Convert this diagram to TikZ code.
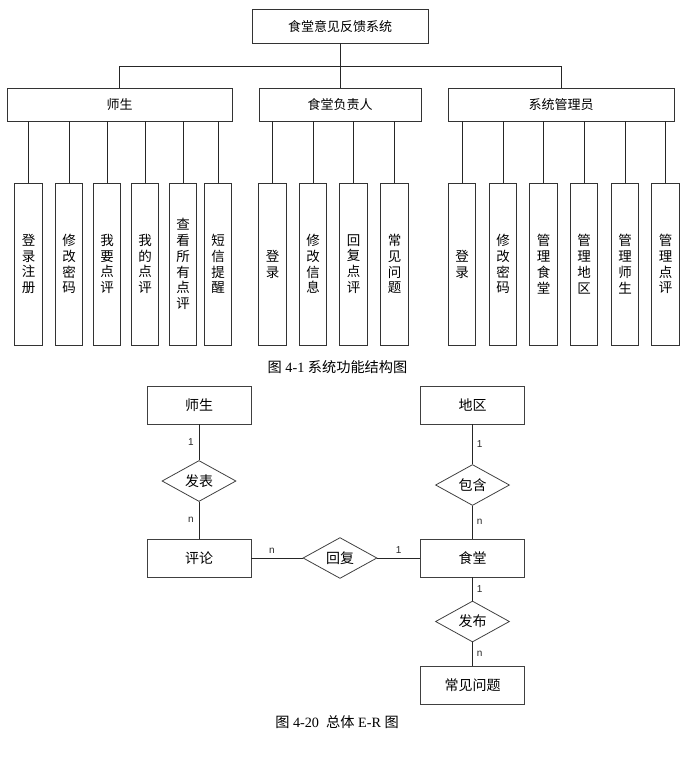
\documentclass[tikz,border=0pt]{standalone}
\usepackage{fontspec}
\setmainfont{Liberation Serif}
\newfontfamily\cjk{Noto Sans CJK SC}
\newfontfamily\labfont{Liberation Sans}
\usetikzlibrary{positioning,shapes.geometric}
\tikzset{
  link/.style={line width=0.8pt, black!85},
  topbox/.style={draw=black!80, line width=0.8pt, inner sep=0pt, font=\cjk\fontsize{13}{16}\selectfont},
  leafbox/.style={draw=black!80, line width=0.8pt, inner sep=0pt, minimum width=27.5pt, minimum height=162pt, align=center, font=\cjk\fontsize{13.5}{15.8}\selectfont},
  ent/.style={draw=black!75, line width=0.8pt, inner sep=0pt, minimum width=104pt, minimum height=38pt, font=\cjk\fontsize{14}{16}\selectfont},
  rel/.style={diamond, draw=black!75, line width=0.8pt, inner sep=0pt, minimum width=74pt, minimum height=37pt, font=\cjk\fontsize{14}{16}\selectfont},
  card/.style={font=\labfont\fontsize{10}{11}\selectfont, inner sep=0pt},
  capt/.style={font=\fontsize{14.2}{16}\selectfont, inner sep=0pt},
}
\newcommand{\leaf}[4]{%
  \node[leafbox] (#1) at (#2,264) {#3};
  \draw[link] (#4.south -| #1) -- (#1);
}

\begin{document}
\begin{tikzpicture}[x=1pt, y=-1pt]
    \useasboundingbox (0,0) rectangle (695,777);
    % Function structure
    \node[topbox, minimum width=176pt, minimum height=33.5pt] (root) at (340,26.3) {食堂意见反馈系统};
    \node[topbox, minimum width=225pt, minimum height=33pt] (ss) at (119.5,104.5) {师生};
    \node[topbox, minimum width=162pt, minimum height=33pt] (fzr) at (340,104.5) {食堂负责人};
    \node[topbox, minimum width=226pt, minimum height=33pt] (adm) at (561,104.5) {系统管理员};
    \coordinate (bus) at (340,66);
    \draw[link] (root) -- (bus);
    \draw[link] (ss) -- (ss.north |- bus) -- (adm.north |- bus) -- (adm);
    \draw[link] (bus) -- (fzr);
    % Teachers and students
    \leaf{s1}{28.5}{登\\录\\注\\册}{ss}
    \leaf{s2}{69}{修\\改\\密\\码}{ss}
    \leaf{s3}{107}{我\\要\\点\\评}{ss}
    \leaf{s4}{145}{我\\的\\点\\评}{ss}
    \leaf{s5}{183}{查\\看\\所\\有\\点\\评}{ss}
    \leaf{s6}{218}{短\\信\\提\\醒}{ss}
    % Canteen manager
    \leaf{f1}{272.5}{登\\录}{fzr}
    \leaf{f2}{313}{修\\改\\信\\息}{fzr}
    \leaf{f3}{353.5}{回\\复\\点\\评}{fzr}
    \leaf{f4}{394.5}{常\\见\\问\\题}{fzr}
    % Administrator
    \leaf{a1}{462}{登\\录}{adm}
    \leaf{a2}{503}{修\\改\\密\\码}{adm}
    \leaf{a3}{543.5}{管\\理\\食\\堂}{adm}
    \leaf{a4}{584}{管\\理\\地\\区}{adm}
    \leaf{a5}{625}{管\\理\\师\\生}{adm}
    \leaf{a6}{665.5}{管\\理\\点\\评}{adm}
    \node[capt] (cap1) at (337.5,367) {{\cjk 图} 4-1 {\cjk 系统功能结构图}};
    % E-R diagram
    \node[ent] (shisheng) at (199,405) {师生};
    \node[ent] (diqu) at (472.5,405) {地区};
    \node[ent] (pinglun) at (199,558) {评论};
    \node[ent] (shitang) at (472.5,558) {食堂};
    \node[ent] (wenti) at (472.5,685) {常见问题};
    \node[rel] (fabiao) at (199,481) {发表};
    \node[rel] (baohan) at (472.5,485) {包含};
    \node[rel] (huifu) at (340,558) {回复};
    \node[rel] (fabu) at (472.5,621.5) {发布};
    \draw[link] (shisheng) -- node[card, left=5pt] (c1) {1} (fabiao);
    \draw[link] (fabiao) -- node[card, left=5pt] (c2) {n} (pinglun);
    \draw[link] (diqu) -- node[card, right=4pt] (c3) {1} (baohan);
    \draw[link] (baohan) -- node[card, right=4pt] (c4) {n} (shitang);
    \draw[link] (pinglun) -- node[card, above=4pt, pos=0.4] (c5) {n} (huifu);
    \draw[link] (huifu) -- node[card, above=4pt] (c6) {1} (shitang);
    \draw[link] (shitang) -- node[card, right=4pt] (c7) {1} (fabu);
    \draw[link] (fabu) -- node[card, right=4pt] (c8) {n} (wenti);
    \node[capt] (cap2) at (337,722) {{\cjk 图} 4-20 \ {\cjk 总体} E-R {\cjk 图}};
\end{tikzpicture}
\end{document}
